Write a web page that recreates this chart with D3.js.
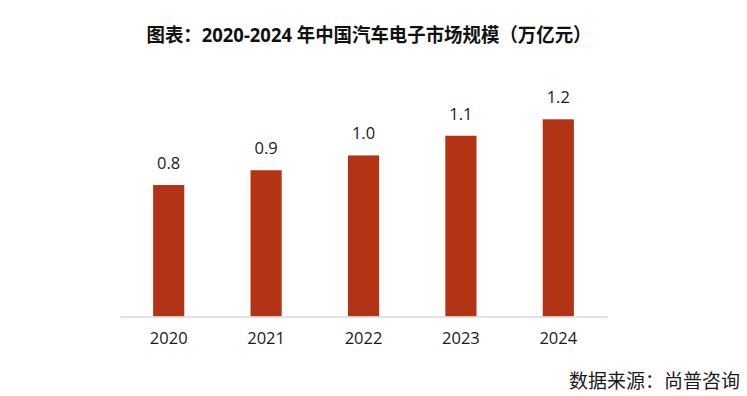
<!DOCTYPE html>
<html><head><meta charset="utf-8">
<script src="https://cdn.jsdelivr.net/npm/d3@7/dist/d3.min.js"></script>
<style>
html,body{margin:0;padding:0;background:#fff;}
svg{display:block;}
</style>
</head><body>
<svg id="chart" width="747" height="396"></svg>
<script>
const categories = ["2020", "2021", "2022", "2023", "2024"];
const values = [0.80, 0.89, 0.98, 1.10, 1.20];
const valueLabels = ["0.8", "0.9", "1.0", "1.1", "1.2"];
const titleText = "图表：2020-2024 年中国汽车电子市场规模（万亿元）";
const sourceText = "数据来源：尚普咨询";

const svg = d3.select("#chart");
const font = "'Open Sans', 'Noto Sans CJK SC', sans-serif";
const barColor = "#B23414";

const x = d3.scaleBand().domain(categories).range([120, 607]).paddingInner(0.68).paddingOuter(0.34);
const y = d3.scaleLinear().domain([0, 1.2]).range([316.5, 119.3]);

svg.append("text")
  .attr("x", 369).attr("y", 42)
  .attr("text-anchor", "middle")
  .attr("font-family", font).attr("font-weight", "bold").attr("font-size", 19)
  .attr("fill", "#111")
  .attr("textLength", 445).attr("lengthAdjust", "spacingAndGlyphs")
  .text(titleText);

svg.selectAll("rect.bar").data(values).join("rect")
  .attr("class", "bar")
  .attr("x", (d, i) => x(categories[i]))
  .attr("width", x.bandwidth())
  .attr("y", d => y(d))
  .attr("height", d => y(0) - y(d))
  .attr("fill", barColor);

svg.selectAll("text.val").data(values).join("text")
  .attr("class", "val")
  .attr("x", (d, i) => x(categories[i]) + x.bandwidth() / 2)
  .attr("y", d => y(d) - 16)
  .attr("text-anchor", "middle")
  .attr("font-family", font).attr("font-size", 16.5)
  .attr("fill", "#1a1a1a")
  .text((d, i) => valueLabels[i]);

const axis = d3.axisBottom(x).tickSize(0).tickPadding(16);
const ag = svg.append("g").attr("transform", `translate(0,${y(0)})`).call(axis);
ag.select(".domain").attr("stroke", "#d9d9d9").attr("stroke-width", 1.5);
ag.selectAll("text").attr("font-family", font).attr("font-size", 16.5).attr("fill", "#1a1a1a");

svg.append("text")
  .attr("x", 740).attr("y", 388)
  .attr("text-anchor", "end")
  .attr("font-family", font).attr("font-size", 19)
  .attr("fill", "#1a1a1a")
  .text(sourceText);
</script>
</body></html>
